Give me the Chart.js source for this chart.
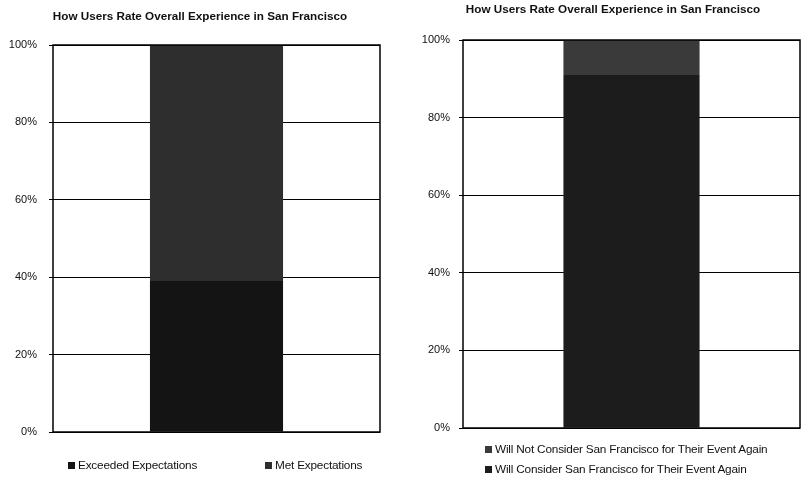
<!DOCTYPE html>
<html><head><meta charset="utf-8">
<script src="https://cdn.jsdelivr.net/npm/chart.js@4.4.0/dist/chart.umd.min.js"></script>
<style>
html,body{margin:0;padding:0;background:#fff;}
#wrap{position:relative;width:801px;height:482px;overflow:hidden;font-family:"Liberation Sans",Arial,sans-serif;}
#c1{position:absolute;left:0;top:0;}
#c2{position:absolute;left:400px;top:0;}
.lg{position:absolute;font-size:11.8px;color:#111;white-space:nowrap;line-height:14px;letter-spacing:-0.2px;}
.lg .box{display:inline-block;width:7px;height:7px;margin-right:3px;vertical-align:0px;}
.ttl{position:absolute;width:400px;text-align:center;font-size:11.7px;font-weight:bold;line-height:14px;color:#111;white-space:nowrap;}
</style></head>
<body><div id="wrap">
<canvas id="c1" width="400" height="482"></canvas>
<canvas id="c2" width="401" height="482"></canvas>
</div>
<script>
// ---- data ----
const chartTitle1 = 'How Users Rate Overall Experience in San Francisco';
const chartTitle2 = 'How Users Rate Overall Experience in San Francisco';
const categories = [''];
const yTickLabels = ['0%', '20%', '40%', '60%', '80%', '100%'];
const seriesNames1 = ['Exceeded Expectations', 'Met Expectations'];
const exceededValues = [39];
const metValues = [61];
const seriesNames2 = ['Will Not Consider San Francisco for Their Event Again', 'Will Consider San Francisco for Their Event Again'];
const willNotConsiderValues = [9];
const willConsiderValues = [91];

// ---- styles ----
const colors1 = ['#141414', '#2e2e2e'];
const colors2 = ['#3a3a3a', '#1c1c1c'];
const FONT = '"Liberation Sans", Arial, sans-serif';

const framePlugin = {
  id: 'frame',
  afterDatasetsDraw(chart) {
    const {ctx, chartArea: a} = chart;
    ctx.save();
    ctx.strokeStyle = '#000';
    ctx.lineWidth = 1.5;
    ctx.strokeRect(a.left, a.top, a.right - a.left, a.bottom - a.top);
    ctx.restore();
  }
};

function makeChart(id, datasets, opt) {
  return new Chart(document.getElementById(id), {
    type: 'bar',
    data: { labels: categories, datasets },
    options: {
      responsive: false,
      animation: false,
      devicePixelRatio: 1,
      layout: { padding: { left: 0, right: opt.pr, top: opt.pt, bottom: opt.pb } },
      plugins: {
        legend: { display: false },
        tooltip: { enabled: false },
        title: { display: false }
      },
      scales: {
        x: { stacked: true, display: false },
        y: {
          stacked: true, min: 0, max: 100,
          afterFit(s) { s.width = opt.yw; },
          ticks: {
            stepSize: 20, padding: opt.tp, color: '#111',
            font: { family: FONT, size: 11 },
            callback: (v, i) => yTickLabels[i]
          },
          grid: { color: '#000', lineWidth: 1, drawTicks: true, tickLength: 4, tickColor: '#000' },
          border: { display: false }
        }
      }
    },
    plugins: [framePlugin]
  });
}

const chart1 = makeChart('c1', [
  { label: seriesNames1[0], data: exceededValues, backgroundColor: colors1[0], barPercentage: 0.407, categoryPercentage: 1 },
  { label: seriesNames1[1], data: metValues, backgroundColor: colors1[1], barPercentage: 0.407, categoryPercentage: 1 }
], { pr: 20, pt: 45, pb: 50, yw: 53, tp: 12 });

const chart2 = makeChart('c2', [
  { label: seriesNames2[1], data: willConsiderValues, backgroundColor: colors2[1], barPercentage: 0.404, categoryPercentage: 1 },
  { label: seriesNames2[0], data: willNotConsiderValues, backgroundColor: colors2[0], barPercentage: 0.404, categoryPercentage: 1 }
], { pr: 1, pt: 40, pb: 54, yw: 63, tp: 9 });

const wrap = document.getElementById('wrap');
function addTitle(text, cx, y) {
  const d = document.createElement('div');
  d.className = 'ttl';
  d.style.left = (cx - 200) + 'px';
  d.style.top = y + 'px';
  d.textContent = text;
  wrap.appendChild(d);
}
addTitle(chartTitle1, 200, 9);
addTitle(chartTitle2, 613, 2);

// ---- HTML legends built from the datasets ----
function addLegend(ds, x, y) {
  const d = document.createElement('div');
  d.className = 'lg';
  d.style.left = x + 'px';
  d.style.top = y + 'px';
  const b = document.createElement('span');
  b.className = 'box';
  b.style.background = ds.backgroundColor;
  d.appendChild(b);
  d.appendChild(document.createTextNode(ds.label));
  wrap.appendChild(d);
}
addLegend(chart1.data.datasets[0], 68, 458);
addLegend(chart1.data.datasets[1], 265, 458);
addLegend(chart2.data.datasets[1], 485, 442);
addLegend(chart2.data.datasets[0], 485, 462);
</script>
</body></html>
